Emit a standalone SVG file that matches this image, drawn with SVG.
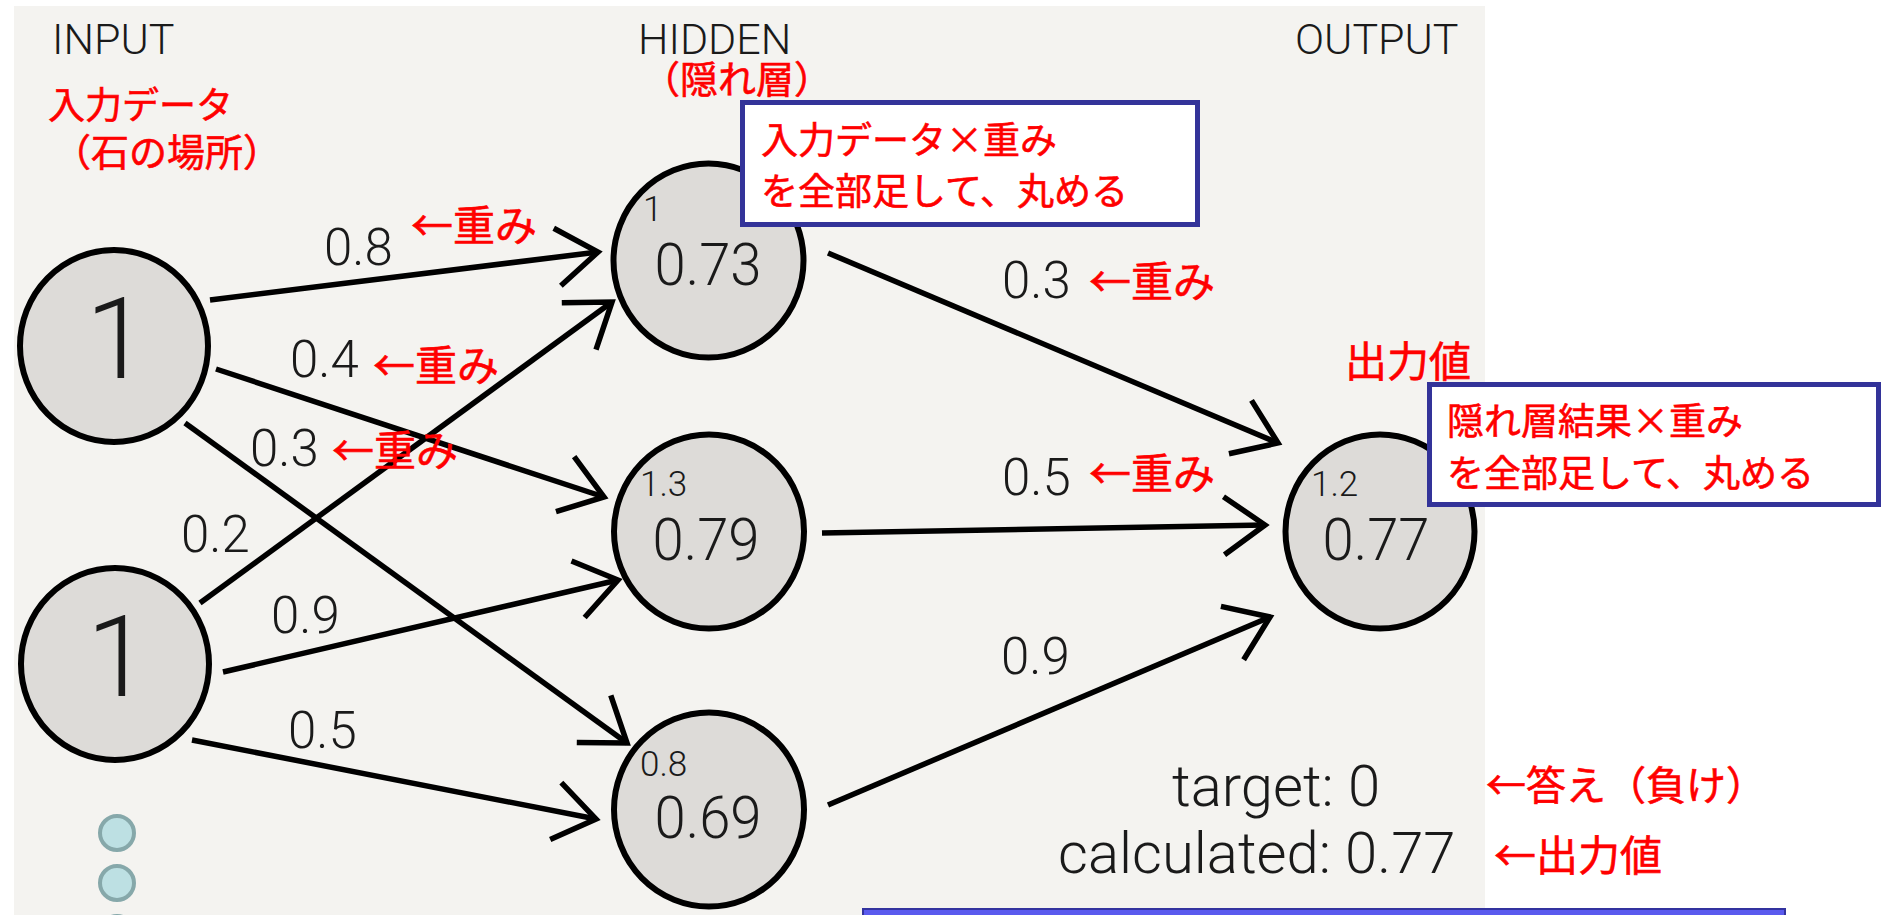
<svg xmlns="http://www.w3.org/2000/svg" width="1883" height="915" viewBox="0 0 1883 915">
  <defs>
    <marker id="chevron" markerUnits="userSpaceOnUse" viewBox="-50 -40 60 80" refX="0" refY="0" markerWidth="60" markerHeight="80" orient="auto" overflow="visible">
      <path d="M-41,-29 L0,0 L-41,29" fill="none" stroke="#000" stroke-width="5.5" stroke-linejoin="miter"/>
    </marker>
    <style>
      .panel { fill: #f4f3f0; }
      .node { fill: #dddbd8; stroke: #000; stroke-width: 6; }
      .edge { stroke: #000; stroke-width: 5.5; fill: none; marker-end: url(#chevron); }
      .lbl { font-family: Roboto, "Liberation Sans", sans-serif; font-weight: 300; fill: #1a1a1a; }
      .head { font-size: 43px; }
      .w { font-size: 51px; }
      .big { font-size: 59px; text-anchor: middle; }
      .one { font-size: 114px; text-anchor: middle; }
      .sum { font-size: 35px; }
      .res { font-size: 58px; }
      .jp { font-family: "Noto Sans CJK JP", "Noto Sans CJK SC", sans-serif; fill: #ff0000; stroke: #ff0000; stroke-width: 0.6; }
      .s37 { font-size: 37px; }
      .s38 { font-size: 38px; }
      .s40 { font-size: 40px; }
      .s42 { font-size: 42px; }
      .note { fill: #ffffff; stroke: #333399; stroke-width: 5; }
      .dot { fill: #bde0e3; stroke: #86a8aa; stroke-width: 4; }
    </style>
  </defs>

  <!-- page and canvas -->
  <rect x="0" y="0" width="1883" height="915" fill="#ffffff"/>
  <rect class="panel" x="14" y="6" width="1471" height="909"/>

  <!-- layer headings -->
  <text class="lbl head" x="52" y="54">INPUT</text>
  <text class="lbl head" x="638" y="54">HIDDEN</text>
  <text class="lbl head" x="1295" y="54">OUTPUT</text>

  <text class="jp s37" x="48" y="119">入力データ</text>
  <text class="jp s38" x="53" y="166">（石の場所）</text>
  <text class="jp s38" x="642" y="93">（隠れ層）</text>

  <!-- connectors -->
  <g id="connectors">
    <line class="edge" x1="210" y1="300" x2="598" y2="252"/>
    <line class="edge" x1="216" y1="369" x2="604" y2="497"/>
    <line class="edge" x1="185" y1="423" x2="627" y2="743"/>
    <line class="edge" x1="200" y1="603" x2="612" y2="302"/>
    <line class="edge" x1="223" y1="672" x2="618" y2="580"/>
    <line class="edge" x1="192" y1="740" x2="596" y2="819"/>
    <line class="edge" x1="828" y1="253" x2="1278" y2="443"/>
    <line class="edge" x1="822" y1="533" x2="1265" y2="525"/>
    <line class="edge" x1="828" y1="805" x2="1270" y2="617"/>
  </g>

  <!-- weight labels -->
  <g id="weights">
    <text class="lbl w" x="324" y="265">0.8</text>
    <text class="lbl w" x="290" y="377">0.4</text>
    <text class="lbl w" x="250" y="466">0.3</text>
    <text class="lbl w" x="181" y="552">0.2</text>
    <text class="lbl w" x="271" y="633">0.9</text>
    <text class="lbl w" x="288" y="748">0.5</text>
    <text class="lbl w" x="1002" y="298">0.3</text>
    <text class="lbl w" x="1002" y="495">0.5</text>
    <text class="lbl w" x="1001" y="674">0.9</text>
    <text class="jp s42" x="411" y="241">←重み</text>
    <text class="jp s42" x="373" y="381">←重み</text>
    <text class="jp s42" x="332" y="466">←重み</text>
    <text class="jp s42" x="1089" y="297">←重み</text>
    <text class="jp s42" x="1089" y="489">←重み</text>
  </g>

  <!-- input layer -->
  <g id="input-1">
    <ellipse class="node" cx="114" cy="346" rx="94" ry="96"/>
    <text class="lbl one" x="117" y="378">1</text>
  </g>
  <g id="input-2">
    <ellipse class="node" cx="115" cy="664" rx="94" ry="96"/>
    <text class="lbl one" x="118" y="696">1</text>
  </g>
  <g id="input-more">
    <circle class="dot" cx="117" cy="833" r="17"/>
    <circle class="dot" cx="117" cy="883" r="17"/>
    <circle class="dot" cx="117" cy="933" r="17"/>
  </g>

  <!-- hidden layer -->
  <g id="hidden-1">
    <ellipse class="node" cx="708.5" cy="260.5" rx="95" ry="97"/>
    <text class="lbl sum" x="643" y="221">1</text>
    <text class="lbl big" x="708" y="285" textLength="107" lengthAdjust="spacingAndGlyphs">0.73</text>
  </g>
  <g id="hidden-2">
    <ellipse class="node" cx="709" cy="531.5" rx="95" ry="97"/>
    <text class="lbl sum" x="640" y="496">1.3</text>
    <text class="lbl big" x="706" y="560" textLength="107" lengthAdjust="spacingAndGlyphs">0.79</text>
  </g>
  <g id="hidden-3">
    <ellipse class="node" cx="709" cy="809.5" rx="95" ry="97"/>
    <text class="lbl sum" x="640" y="776">0.8</text>
    <text class="lbl big" x="708" y="838" textLength="107" lengthAdjust="spacingAndGlyphs">0.69</text>
  </g>

  <!-- output layer -->
  <g id="output">
    <ellipse class="node" cx="1380" cy="531.5" rx="94.5" ry="97"/>
    <text class="lbl sum" x="1311" y="496">1.2</text>
    <text class="lbl big" x="1376" y="560" textLength="107" lengthAdjust="spacingAndGlyphs">0.77</text>
  </g>
  <text class="jp s42" x="1345" y="377">出力値</text>

  <!-- explanatory notes -->
  <g id="note-hidden">
    <rect class="note" x="742.5" y="102.5" width="455" height="122"/>
    <text class="jp s37" x="761" y="154">入力データ×重み</text>
    <text class="jp s37" x="761" y="205">を全部足して、丸める</text>
  </g>
  <g id="note-output">
    <rect class="note" x="1429.5" y="384.5" width="449" height="120"/>
    <text class="jp s37" x="1447" y="435">隠れ層結果×重み</text>
    <text class="jp s37" x="1447" y="487">を全部足して、丸める</text>
  </g>

  <!-- result readout -->
  <g id="result">
    <text class="lbl res" x="1172" y="806">target: 0</text>
    <text class="lbl res" x="1058" y="873">calculated: 0.77</text>
    <text class="jp s40" x="1486" y="800">←答え（負け）</text>
    <text class="jp s42" x="1494" y="871">←出力値</text>
  </g>

  <!-- bar at the lower edge -->
  <rect x="863" y="909" width="922" height="12" fill="#5a5aee" stroke="#33339f" stroke-width="2"/>
</svg>
